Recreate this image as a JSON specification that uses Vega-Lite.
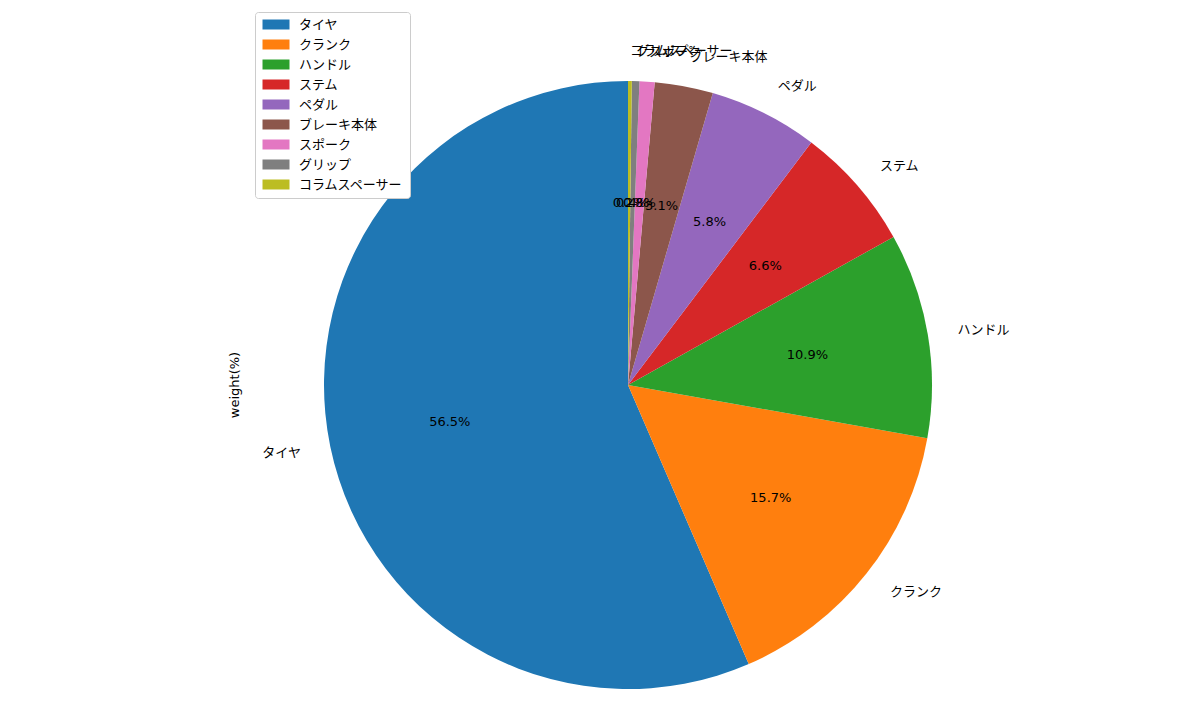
{
  "$schema": "https://vega.github.io/schema/vega-lite/v6.json",
  "width": 756,
  "height": 608,
  "autosize": "none",
  "padding": {"left": 250, "top": 81, "right": 194, "bottom": 14},
  "background": "white",
  "title": {
    "text": "weight(%)",
    "orient": "left",
    "anchor": "middle",
    "offset": 8,
    "fontSize": 13,
    "fontWeight": "normal",
    "font": "DejaVu Sans",
    "color": "black"
  },
  "data": {
    "values": [
      {"name": "タイヤ", "value": 56.5},
      {"name": "クランク", "value": 15.7},
      {"name": "ハンドル", "value": 10.9},
      {"name": "ステム", "value": 6.6},
      {"name": "ペダル", "value": 5.8},
      {"name": "ブレーキ本体", "value": 3.1},
      {"name": "スポーク", "value": 0.8},
      {"name": "グリップ", "value": 0.4},
      {"name": "コラムスペーサー", "value": 0.2}
    ]
  },
  "transform": [
    {"window": [{"op": "row_number", "as": "rank"}]},
    {"stack": "value", "groupby": [], "sort": [{"field": "rank", "order": "descending"}], "as": ["v0", "v1"]},
    {"calculate": "(datum.v0 + datum.v1) / 2", "as": "mid"},
    {"calculate": "format(datum.value, '.1f') + '%'", "as": "pct"}
  ],
  "layer": [
    {
      "mark": {"type": "arc", "outerRadius": 304, "stroke": null},
      "encoding": {
        "theta": {"field": "v0", "type": "quantitative", "scale": {"domain": [0, 100]}, "stack": null},
        "theta2": {"field": "v1"},
        "color": {
          "field": "name",
          "type": "nominal",
          "scale": {
            "domain": ["タイヤ", "クランク", "ハンドル", "ステム", "ペダル", "ブレーキ本体", "スポーク", "グリップ", "コラムスペーサー"],
            "range": ["#1f77b4", "#ff7f0e", "#2ca02c", "#d62728", "#9467bd", "#8c564b", "#e377c2", "#7f7f7f", "#bcbd22"]
          },
          "legend": {
            "title": null,
            "orient": "none",
            "legendX": 5,
            "legendY": -69,
            "symbolType": "M-1,-1h5.4v2h-5.4z",
            "symbolSize": 100,
            "symbolStrokeWidth": 0,
            "labelFont": "Noto Sans CJK JP",
            "labelFontSize": 13,
            "labelColor": "black",
            "labelOffset": 25,
            "rowPadding": 6,
            "padding": 6,
            "strokeColor": "#cccccc",
            "cornerRadius": 3,
            "fillColor": "white"
          }
        }
      }
    },
    {
      "mark": {"type": "text", "radius": 182, "font": "DejaVu Sans", "fontSize": 13, "color": "black"},
      "encoding": {
        "theta": {"field": "mid", "type": "quantitative", "scale": {"domain": [0, 100]}, "stack": null},
        "text": {"field": "pct"}
      }
    },
    {
      "transform": [{"filter": "datum.name !== 'タイヤ'"}],
      "mark": {"type": "text", "radius": 334, "align": "left", "font": "Noto Sans CJK JP", "fontSize": 13, "color": "black"},
      "encoding": {
        "theta": {"field": "mid", "type": "quantitative", "scale": {"domain": [0, 100]}, "stack": null},
        "text": {"field": "name"}
      }
    },
    {
      "transform": [{"filter": "datum.name === 'タイヤ'"}],
      "mark": {"type": "text", "radius": 334, "align": "right", "font": "Noto Sans CJK JP", "fontSize": 13, "color": "black"},
      "encoding": {
        "theta": {"field": "mid", "type": "quantitative", "scale": {"domain": [0, 100]}, "stack": null},
        "text": {"field": "name"}
      }
    }
  ],
  "config": {"view": {"stroke": null}}
}
